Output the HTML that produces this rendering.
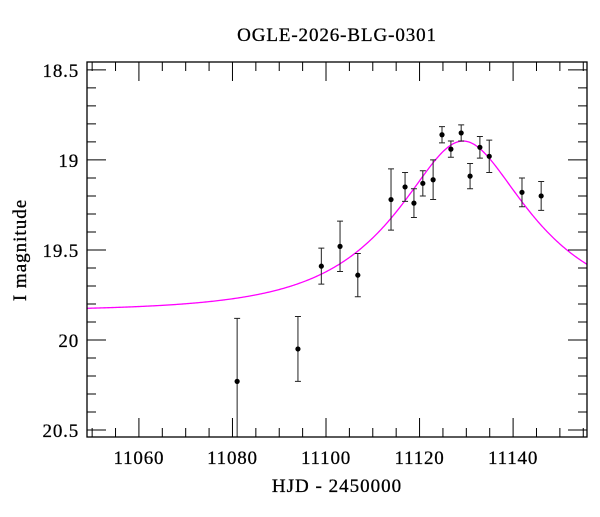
<!DOCTYPE html>
<html><head><meta charset="utf-8"><style>
body{margin:0;background:#fff;width:600px;height:512px;overflow:hidden}
text{font-family:"Liberation Serif",serif;fill:#000}
</style></head><body>
<svg id="chart" width="600" height="512" viewBox="0 0 600 512" xmlns="http://www.w3.org/2000/svg">
<text x="337" y="41" font-size="19" letter-spacing="0.9" text-anchor="middle" stroke="#000" stroke-width="0.3">OGLE-2026-BLG-0301</text>
<text x="337" y="492" font-size="19" letter-spacing="1" text-anchor="middle" stroke="#000" stroke-width="0.3">HJD - 2450000</text>
<text x="0" y="0" font-size="19" letter-spacing="1" text-anchor="middle" stroke="#000" stroke-width="0.3" transform="translate(26,250) rotate(-90)">I magnitude</text>
<g id="plot"></g>
</svg>
<script>
const xTicks = [11060, 11080, 11100, 11120, 11140];
const yTicks = [18.5, 19, 19.5, 20, 20.5];
const obsDays = [11081, 11094, 11099, 11103, 11106.8, 11113.9, 11116.9, 11118.8, 11120.7, 11122.9, 11124.8, 11126.7, 11128.9, 11130.8, 11132.9, 11134.9, 11141.9, 11146];
const obsMags = [20.23, 20.05, 19.59, 19.48, 19.64, 19.22, 19.15, 19.24, 19.13, 19.11, 18.86, 18.94, 18.85, 19.09, 18.93, 18.98, 19.18, 19.2];
const obsErrs = [0.35, 0.18, 0.1, 0.14, 0.12, 0.17, 0.08, 0.08, 0.07, 0.11, 0.045, 0.045, 0.045, 0.07, 0.06, 0.09, 0.08, 0.08];
const modelParams = [11129.3, 26, 0.45, 19.84]; // t0, tE, u0, baseline mag

const L=87,R=587,T=62,B=437;
const x0=11048.9,x1=11155.8,m0=18.456,m1=20.539;
const X=v=>L+(v-x0)/(x1-x0)*(R-L);
const Y=v=>T+(v-m0)/(m1-m0)*(B-T);
const NS="http://www.w3.org/2000/svg";
const g=document.getElementById('plot');
function mk(tag,attrs){const e=document.createElementNS(NS,tag);for(const k in attrs)e.setAttribute(k,attrs[k]);g.appendChild(e);return e;}

const defs=document.createElementNS(NS,'defs');
defs.innerHTML='<clipPath id="c"><rect x="'+L+'" y="'+T+'" width="'+(R-L)+'" height="'+(B-T)+'"/></clipPath>';
g.appendChild(defs);

const [t0,tE,u0,base]=modelParams;
let d='';
for(let px=L;px<=R;px+=1){
  const t=x0+(px-L)/(R-L)*(x1-x0);
  const u=Math.sqrt(u0*u0+((t-t0)/tE)**2);
  const A=(u*u+2)/(u*Math.sqrt(u*u+4));
  const m=base-2.5*Math.log10(A);
  d+=(px===L?'M':'L')+px.toFixed(1)+','+Y(m).toFixed(2);
}
const curve=mk('path',{d:d,fill:'none',stroke:'#ff00ff','stroke-width':1.3,'clip-path':'url(#c)'});



obsDays.forEach((t,i)=>{
  const cx=X(t),cy=Y(obsMags[i]);
  const y1=Y(obsMags[i]-obsErrs[i]),y2=Math.min(Y(obsMags[i]+obsErrs[i]),B);
  const eb=mk('path',{d:`M${cx},${y1}V${y2}M${cx-3},${y1}H${cx+3}`+(Y(obsMags[i]+obsErrs[i])<=B?`M${cx-3},${y2}H${cx+3}`:''),stroke:'#222','stroke-width':1,fill:'none'});
  
  
  const p=mk('circle',{cx:cx,cy:cy,r:2.6,fill:'#000'});
  
  
});

let td='';
for(let v=11050;v<=11155;v+=5){const x=X(v);const len=(v%20===0)?19:9;td+=`M${x},${B}v${-len}M${x},${T}v${len}`;}
for(let v=18.5;v<=20.5001;v+=0.1){const y=Y(v);const maj=Math.abs(v*2-Math.round(v*2))<1e-6;const len=maj?19:9;td+=`M${L},${y}h${len}M${R},${y}h${-len}`;}
const ticks=mk('path',{d:td,stroke:'#000','stroke-width':1,fill:'none'});


const frame=mk('rect',{x:L,y:T,width:R-L,height:B-T,fill:'none',stroke:'#000','stroke-width':1.3});



xTicks.forEach(v=>{
  const t=mk('text',{x:X(v),y:B+27,'font-size':19,'letter-spacing':0.8,'text-anchor':'middle',stroke:'#000','stroke-width':0.25});
  t.textContent=v;
  
  
});
yTicks.forEach(v=>{
  const t=mk('text',{x:L-8,y:Y(v)+7,'font-size':19,'letter-spacing':0.8,'text-anchor':'end',stroke:'#000','stroke-width':0.25});
  t.textContent=v;
  
  
});
</script>
</body></html>
